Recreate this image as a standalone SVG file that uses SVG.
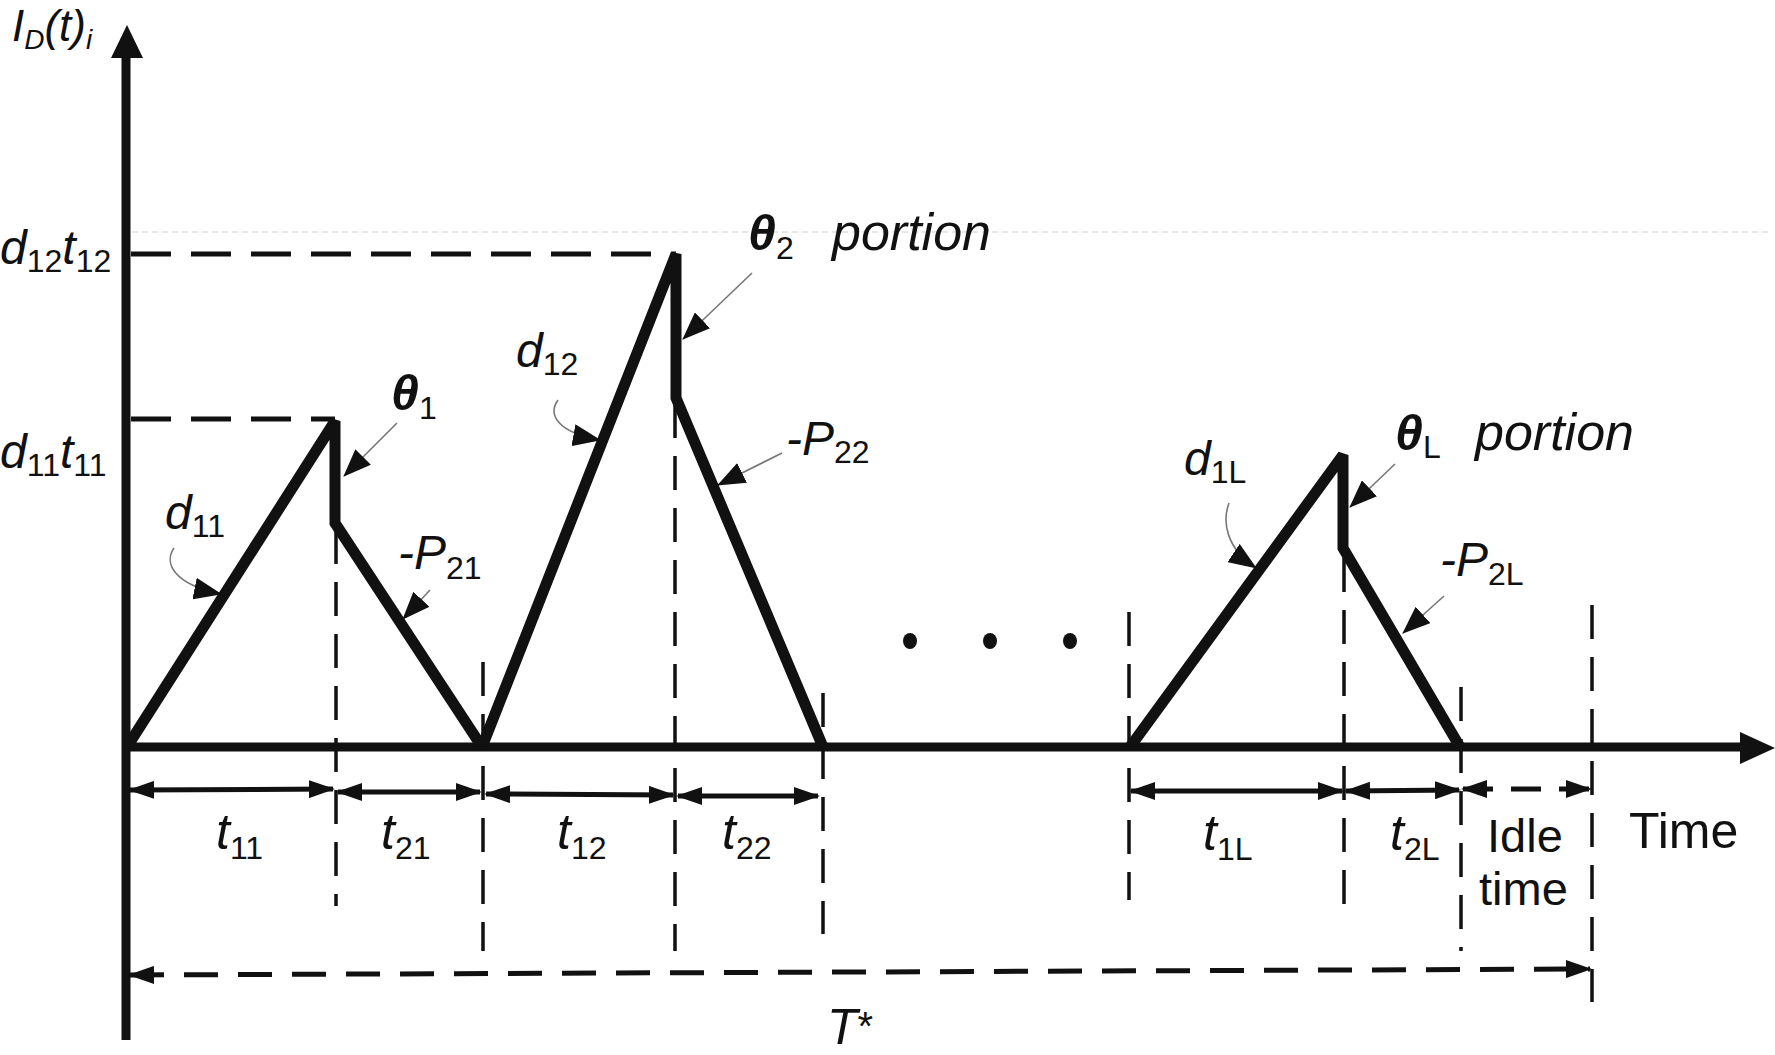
<svg xmlns="http://www.w3.org/2000/svg" width="1775" height="1055" viewBox="0 0 1775 1055">
<defs>
<style>
text{font-family:"Liberation Sans",Arial,sans-serif;fill:#111}
.it{font-style:italic}
.up{font-style:normal}
.th{font-style:italic;font-weight:bold}
.axis{stroke:#111;stroke-width:9;fill:none}
.prof{stroke:#111;stroke-width:11;fill:none;stroke-linejoin:miter;stroke-miterlimit:3}
.lvl{stroke:#111;stroke-width:5;stroke-dasharray:40 20;fill:none}
.vd{stroke:#111;stroke-width:3.5;stroke-dasharray:34 18;fill:none}
.dim{stroke:#111;stroke-width:5;fill:none}
.dimd{stroke:#111;stroke-width:5;stroke-dasharray:30 18;fill:none}
.tot{stroke:#111;stroke-width:5;stroke-dasharray:34 20;fill:none}
.ptr{stroke:#777;stroke-width:1.6;fill:none}
.faint{stroke:#e6e6e6;stroke-width:2;stroke-dasharray:6 4;fill:none}
</style>
<marker id="ah" markerUnits="userSpaceOnUse" viewBox="0 0 26 18" refX="24" refY="9" markerWidth="26" markerHeight="18" orient="auto-start-reverse"><path d="M0,0 L26,9 L0,18 z" fill="#111"/></marker>
<marker id="ap" markerUnits="userSpaceOnUse" viewBox="0 0 28 22" refX="27" refY="11" markerWidth="28" markerHeight="22" orient="auto"><path d="M0,0 L28,11 L0,22 z" fill="#111"/></marker>
</defs>
<rect width="1775" height="1055" fill="#fff"/>

<g id="faint-line"><line class="faint" x1="132" y1="232" x2="1768" y2="232"/></g>

<g id="axes">
<line class="axis" x1="126" y1="1040" x2="126" y2="50"/>
<path d="M127,25 L111,58 L143,58 z" fill="#111"/>
<line class="axis" x1="126" y1="747" x2="1745" y2="747"/>
<path d="M1775,748 L1740,732 L1740,764 z" fill="#111"/>
</g>

<g id="connectors">
<!-- level lines -->
<line class="lvl" x1="131" y1="254" x2="676" y2="254"/>
<line class="lvl" x1="131" y1="419" x2="335" y2="419"/>
<!-- vertical dashed guides -->
<line class="vd" x1="336" y1="530" x2="336" y2="906"/>
<line class="vd" x1="483" y1="662" x2="483" y2="951"/>
<line class="vd" x1="675" y1="404" x2="675" y2="951"/>
<line class="vd" x1="823" y1="693" x2="823" y2="934"/>
<line class="vd" x1="1129" y1="612" x2="1129" y2="900"/>
<line class="vd" x1="1344" y1="558" x2="1344" y2="912"/>
<line class="vd" x1="1461" y1="687" x2="1461" y2="951"/>
<line class="vd" x1="1592" y1="605" x2="1592" y2="1002"/>
<!-- dimension arrows -->
<line class="dim" x1="130" y1="790" x2="333" y2="789" marker-start="url(#ah)" marker-end="url(#ah)"/>
<line class="dim" x1="338" y1="792" x2="480" y2="792" marker-start="url(#ah)" marker-end="url(#ah)"/>
<line class="dim" x1="486" y1="794" x2="673" y2="795" marker-start="url(#ah)" marker-end="url(#ah)"/>
<line class="dim" x1="678" y1="796" x2="818" y2="796" marker-start="url(#ah)" marker-end="url(#ah)"/>
<line class="dim" x1="1131" y1="791" x2="1342" y2="791" marker-start="url(#ah)" marker-end="url(#ah)"/>
<line class="dim" x1="1346" y1="791" x2="1459" y2="790" marker-start="url(#ah)" marker-end="url(#ah)"/>
<line class="dimd" x1="1463" y1="789" x2="1590" y2="789" marker-start="url(#ah)" marker-end="url(#ah)"/>
<line class="tot" x1="130" y1="975" x2="1590" y2="969" marker-start="url(#ah)" marker-end="url(#ah)"/>
<!-- pointers -->
<line class="ptr" x1="397" y1="423" x2="344" y2="476" marker-end="url(#ap)"/>
<line class="ptr" x1="752" y1="273" x2="683" y2="339" marker-end="url(#ap)"/>
<line class="ptr" x1="1395" y1="464" x2="1350" y2="507" marker-end="url(#ap)"/>
<line class="ptr" x1="430" y1="590" x2="403" y2="619" marker-end="url(#ap)"/>
<line class="ptr" x1="782" y1="453" x2="718" y2="485" marker-end="url(#ap)"/>
<line class="ptr" x1="1444" y1="596" x2="1403" y2="633" marker-end="url(#ap)"/>
<path class="ptr" d="M174,548 C164,562 172,584 221,594" marker-end="url(#ap)"/>
<path class="ptr" d="M558,400 C548,414 556,432 600,440" marker-end="url(#ap)"/>
<path class="ptr" d="M1229,503 C1222,522 1226,548 1256,568" marker-end="url(#ap)"/>
</g>

<g id="profile-1"><path class="prof" d="M127,747 L335,421 L335,523 L482,747"/></g>
<g id="profile-2"><path class="prof" d="M482,747 L676,254 L676,398 L823,747"/></g>
<g id="profile-L"><path class="prof" d="M1130,747 L1343,455 L1343,548 L1460,747"/></g>

<g id="dots">
<ellipse cx="910" cy="641" rx="7" ry="8" fill="#111"/>
<ellipse cx="990" cy="641" rx="7" ry="8" fill="#111"/>
<ellipse cx="1070" cy="641" rx="7" ry="8" fill="#111"/>
</g>

<g id="labels">
<text x="12" y="41" class="it" font-size="44">I<tspan font-size="28" dy="8">D</tspan><tspan dy="-8">(t)</tspan><tspan font-size="28" dy="8">i</tspan></text>
<text x="0" y="264" class="it" font-size="48">d<tspan class="up" font-size="32" dy="8">12</tspan><tspan dy="-8">t</tspan><tspan class="up" font-size="32" dy="8">12</tspan></text>
<text x="0" y="468" class="it" font-size="48">d<tspan class="up" font-size="32" dy="8">11</tspan><tspan dy="-8">t</tspan><tspan class="up" font-size="32" dy="8">11</tspan></text>
<text x="165" y="529" class="it" font-size="48">d<tspan class="up" font-size="32" dy="8">11</tspan></text>
<text x="391" y="410" class="th" font-size="50">θ<tspan class="up" font-weight="normal" font-size="32" dy="9">1</tspan></text>
<text x="398" y="569" class="it" font-size="48">-P<tspan class="up" font-size="32" dy="10">21</tspan></text>
<text x="516" y="367" class="it" font-size="48">d<tspan class="up" font-size="32" dy="8">12</tspan></text>
<text x="748" y="250" class="th" font-size="50">θ<tspan class="up" font-weight="normal" font-size="32" dy="9">2</tspan></text>
<text x="832" y="250" class="it" font-size="52">portion</text>
<text x="786" y="455" class="it" font-size="48">-P<tspan class="up" font-size="32" dy="8">22</tspan></text>
<text x="1184" y="475" class="it" font-size="48">d<tspan class="up" font-size="32" dy="8">1L</tspan></text>
<text x="1395" y="450" class="th" font-size="50">θ<tspan class="up" font-weight="normal" font-size="32" dy="8">L</tspan></text>
<text x="1475" y="450" class="it" font-size="52">portion</text>
<text x="1440" y="576" class="it" font-size="48">-P<tspan class="up" font-size="32" dy="9">2L</tspan></text>
<text x="216" y="849" class="it" font-size="50">t<tspan class="up" font-size="32" dy="10">11</tspan></text>
<text x="381" y="849" class="it" font-size="50">t<tspan class="up" font-size="32" dy="10">21</tspan></text>
<text x="557" y="849" class="it" font-size="50">t<tspan class="up" font-size="32" dy="10">12</tspan></text>
<text x="722" y="849" class="it" font-size="50">t<tspan class="up" font-size="32" dy="10">22</tspan></text>
<text x="1203" y="850" class="it" font-size="50">t<tspan class="up" font-size="32" dy="10">1L</tspan></text>
<text x="1390" y="850" class="it" font-size="50">t<tspan class="up" font-size="32" dy="10">2L</tspan></text>
<text x="1487" y="852" font-size="47">Idle</text>
<text x="1479" y="905" font-size="47">time</text>
<text x="1629" y="848" font-size="50">Time</text>
<text x="827" y="1044" class="it" font-size="50">T<tspan class="up" font-size="40" dy="-4">*</tspan></text>
</g>
</svg>
